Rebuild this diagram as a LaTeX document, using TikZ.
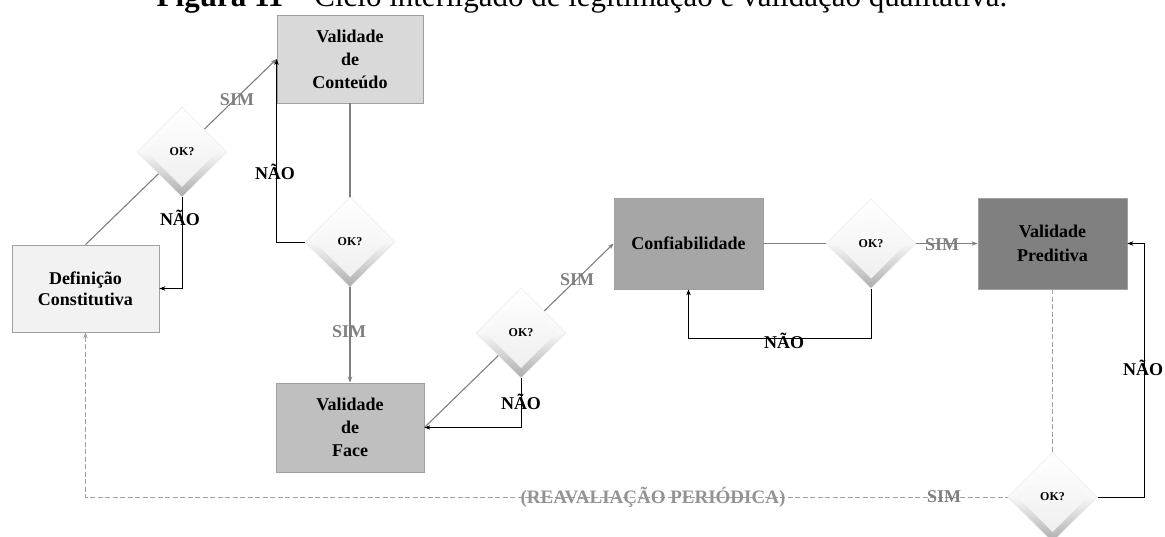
\documentclass[tikz,border=0pt]{standalone}
\usepackage{fontspec}
\setmainfont{Liberation Serif}
\usetikzlibrary{shapes.geometric,arrows.meta}
\definecolor{simgray}{HTML}{7F7F7F}
\definecolor{boxedge}{HTML}{A0A0A0}
\definecolor{fillA}{HTML}{D9D9D9}
\definecolor{fillB}{HTML}{F2F2F2}
\definecolor{fillC}{HTML}{BFBFBF}
\definecolor{fillD}{HTML}{A6A6A6}
\definecolor{fillE}{HTML}{808080}
\begin{document}
\begin{tikzpicture}[x=1pt,y=-1pt,
  box/.style={draw=boxedge, line width=0.8pt, minimum width=148pt, minimum height=89pt,
    inner sep=0pt, align=center, font=\bfseries\fontsize{18}{23}\selectfont},
  okdiamond/.style={diamond, aspect=1, minimum width=90pt, minimum height=90pt, inner sep=0pt,
    top color=white, bottom color=gray!65, middle color=gray!6, draw=gray!20, line width=0.4pt,
    font=\bfseries\fontsize{12}{12}\selectfont,
    path picture={\shade[top color=white, bottom color=gray!14]
      ([yshift=35pt]path picture bounding box.center) --
      ([xshift=35pt]path picture bounding box.center) --
      ([yshift=-35pt]path picture bounding box.center) --
      ([xshift=-35pt]path picture bounding box.center) -- cycle;}},
  tip/.style={-{Stealth[length=6pt,width=4.5pt]}},
  sim/.style={draw=simgray, line width=1.1pt, tip},
  nao/.style={draw=black, line width=0.8pt, tip},
  plain/.style={draw=simgray, line width=1.1pt},
  recheck/.style={draw=gray!75, line width=0.9pt, dash pattern=on 5pt off 2.5pt},
  lblsim/.style={text=simgray, inner sep=0pt, font=\bfseries\fontsize{18}{18}\selectfont},
  lblnao/.style={text=black, inner sep=0pt, font=\bfseries\fontsize{18}{18}\selectfont}]

\useasboundingbox (0,0) rectangle (1165,537);

% caption line
\node[anchor=base, inner sep=0pt, font=\fontsize{31}{31}\selectfont] (title) at (582,6.5)
  {\textbf{Figura 11} – Ciclo interligado de legitimação e validação qualitativa.};

% stages
\node[box, fill=fillA, minimum width=146pt, minimum height=88pt] (A) at (350,59) {Validade\\de\\Conteúdo};
\node[box, fill=fillB, minimum width=147pt, minimum height=87pt,
      font=\bfseries\fontsize{18}{21}\selectfont] (B) at (85.5,288.5) {Definição\\Constitutiva};
\node[box, fill=fillC] (C) at (350,427.5) {Validade\\de\\Face};
\node[box, fill=fillD, minimum width=149pt, minimum height=91pt] (D) at (688.5,243.5) {Confiabilidade};
\node[box, fill=fillE, minimum width=149pt, minimum height=91pt,
      font=\bfseries\fontsize{18}{24}\selectfont] (E) at (1052.5,243.5) {Validade\\Preditiva};

% helper points for the return loops
\coordinate (n4) at (871,338);
\coordinate (n5) at (1144,497);

% forward (SIM) connectors
\draw[sim] (B.north) -- (A.west);
\draw[sim] (A.south) -- (C.north);
\draw[sim] (C.east) -- (D.west);
\draw[sim] (D.east) -- (E.west);

% periodic re-evaluation path
\draw[recheck] (E.south) -- (1052.5,460);
\draw[recheck, tip] (1010,497) -| (B.south);

% decision points
\node[okdiamond] (d1) at (182,152) {OK?};
\node[okdiamond] (d2) at (350,242) {OK?};
\node[okdiamond] (d3) at (521,333) {OK?};
\node[okdiamond] (d4) at (871,243.5) {OK?};
\node[okdiamond] (d5) at (1052.5,497) {OK?};

% return (NÃO) connectors
\draw[nao] (d1.south) |- (B.east);
\draw[nao] (d2.west) -| (A.west);
\draw[nao] (d3.south) |- (C.east);
\draw[nao] (d4.south) -- (n4) -| (D.south);
\draw[nao] (d5.east) -- (n5) |- (E.east);

% branch labels
\node[lblsim] (s1) at (237,100) {SIM};
\node[lblnao] (m1) at (180,218) {NÃO};
\node[lblnao] (m2) at (275,172) {NÃO};
\node[lblsim] (s2) at (349,332) {SIM};
\node[lblsim] (s3) at (577,280) {SIM};
\node[lblnao] (m3) at (521,402) {NÃO};
\node[lblsim] (s4) at (942,245) {SIM};
\node[lblnao] (m4) at (784,341) {NÃO};
\node[lblnao] (m5) at (1143,368) {NÃO};
\node[lblsim] (s5) at (944,497) {SIM};
\node[lblsim, text=gray!85, font=\bfseries\fontsize{19}{19}\selectfont] (rv) at (653,497) {(REAVALIAÇÃO PERIÓDICA)};
\end{tikzpicture}
\end{document}
